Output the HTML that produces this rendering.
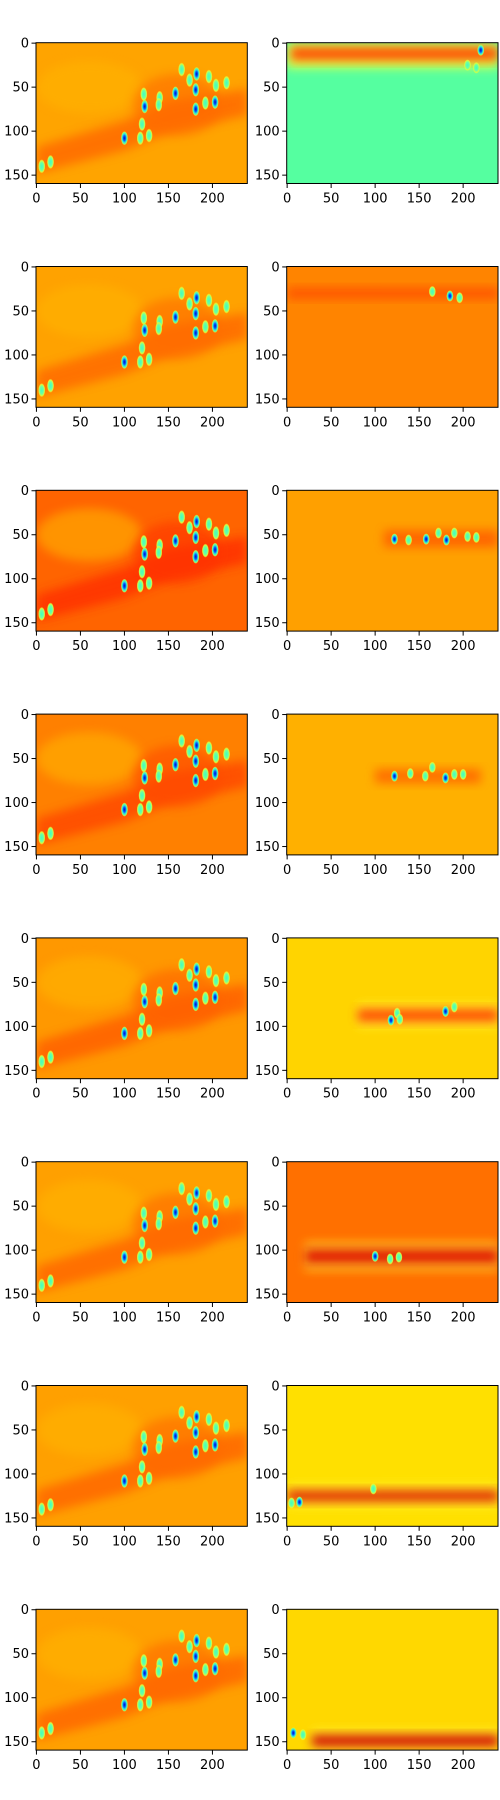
<!DOCTYPE html>
<html><head><meta charset="utf-8"><style>
body{margin:0;background:#fff;width:500px;height:1800px;overflow:hidden}
svg{display:block}
text{font-family:"DejaVu Sans","Liberation Sans",sans-serif;font-size:13px;fill:#000}
</style></head><body>
<svg id="fig" width="500" height="1800" xmlns="http://www.w3.org/2000/svg">
<defs>
<filter id="blur3" x="-50%" y="-50%" width="200%" height="200%"><feGaussianBlur stdDeviation="5"/></filter>
<filter id="blur1" x="-50%" y="-50%" width="200%" height="200%"><feGaussianBlur stdDeviation="1"/></filter>
<radialGradient id="blobS"><stop offset="0" stop-color="#0010c0"/><stop offset="0.35" stop-color="#0060ff"/><stop offset="0.6" stop-color="#30e0e0"/><stop offset="0.85" stop-color="#90ff70"/><stop offset="1" stop-color="#ffff40" stop-opacity="0"/></radialGradient>
<radialGradient id="blobW"><stop offset="0" stop-color="#40ffc0"/><stop offset="0.55" stop-color="#70ffa0"/><stop offset="0.8" stop-color="#d0ff40"/><stop offset="1" stop-color="#ffff40" stop-opacity="0"/></radialGradient>
</defs>
</svg>
<script>
const xTicks=[0,50,100,150,200];
const yTicks=[0,50,100,150];
// left panel blobs: [x, y, strong]
const leftBlobX=[100,122,123,120,118,128,140,139,158,165,174,182,181,181,192,196,203,204,216,6,16];
const leftBlobY=[108,58,72,92,108,105,62,70,57,30,42,35,53,75,68,38,67,48,45,140,135];
const leftBlobS=[1,0,1,0,0,0,0,0,1,0,0,1,1,1,0,0,1,0,0,0,0];
const leftBg=["#ffa400","#ffa200","#ff6400","#ff8000","#ff9800","#ffa000","#ffa000","#ffa000"];
const leftBand=["#ff6a00","#ff6a00","#ff3000","#ff4800","#ff6000","#ff6800","#ff6800","#ff6800"];
// right panels
const rightBg=["#55ffa0","#ff8400","#ffa000","#ffb000","#ffd400","#ff7000","#ffe000","#ffd800"];
const rightBandY0=[4,24,45,62,80,98,118,142];
const rightBandY1=[20,36,64,78,95,116,132,156];
const rightBandX0=[4,0,110,100,80,20,0,28];
const rightBandX1=[240,240,240,220,240,240,240,240];
const rightBandColor=["#ff4000","#ff5000","#ff6000","#ff6800","#ff4000","#e01000","#e02000","#d00000"];
const rightBlobs=[
 [[220,8,1],[215,28,0],[205,25,0]],
 [[165,28,0],[185,33,1],[196,35,0]],
 [[122,55,1],[138,56,0],[158,55,1],[172,48,0],[181,56,1],[190,48,0],[205,52,0],[215,53,0]],
 [[122,70,1],[140,67,0],[157,70,0],[165,60,0],[180,72,1],[190,68,0],[200,68,0]],
 [[118,93,1],[125,85,0],[128,92,0],[180,83,1],[190,78,0]],
 [[100,107,1],[117,110,0],[127,108,0]],
 [[14,132,1],[5,133,0],[98,117,0]],
 [[7,140,1],[18,142,0]]
];
const NS="http://www.w3.org/2000/svg";
const svg=document.getElementById('fig');
const colX=[36,286.7], rowY0=42.7, rowStep=223.8, PW=211.3, PH=140.8, K=0.88;
function mk(tag,attrs,parent){const e=document.createElementNS(NS,tag);for(const k in attrs)e.setAttribute(k,attrs[k]);(parent||svg).appendChild(e);return e;}
function panel(r,c){
  const x0=colX[c], y0=rowY0+r*rowStep;
  const xs=v=>x0+(v+0.5)*K, ys=v=>y0+(v+0.5)*K;
  const g=mk('g',{});
  
  
  const cid='clip'+r+'_'+c;
  const cp=mk('clipPath',{id:cid},g);mk('rect',{x:x0,y:y0,width:PW,height:PH},cp);
  const inner=mk('g',{'clip-path':'url(#'+cid+')'},g);
  if(c===0){
    mk('rect',{x:x0,y:y0,width:PW,height:PH,fill:leftBg[r]},inner);
    mk('ellipse',{cx:xs(60),cy:ys(50),rx:60*K,ry:30*K,fill:'#ffb400',opacity:0.6,filter:'url(#blur3)'},inner);
    const pts=[[0,118],[100,88],[150,66],[240,52],[240,82],[150,102],[100,122],[0,148]];
    mk('polygon',{points:pts.map(p=>xs(p[0])+','+ys(p[1])).join(' '),fill:leftBand[r],opacity:0.85,filter:'url(#blur3)'},inner);
    mk('ellipse',{cx:xs(160),cy:ys(70),rx:50*K,ry:35*K,fill:leftBand[r],opacity:0.6,filter:'url(#blur3)'},inner);
    for(let i=0;i<leftBlobX.length;i++){
      const b=mk('ellipse',{cx:xs(leftBlobX[i]),cy:ys(leftBlobY[i]),rx:4*K,ry:8*K,fill:leftBlobS[i]?'url(#blobS)':'url(#blobW)'},inner);
      
      
    }
  }else{
    mk('rect',{x:x0,y:y0,width:PW,height:PH,fill:rightBg[r]},inner);
    const bx0=rightBandX0[r],bx1=rightBandX1[r],by0=rightBandY0[r],by1=rightBandY1[r];
    if(r===0) mk('rect',{x:x0,y:ys(0),width:PW,height:28*K,fill:'#e8ff40',filter:'url(#blur3)'},inner);
    if(r>=4) mk('rect',{x:xs(bx0),y:ys(by0-6),width:(bx1-bx0)*K,height:(by1-by0+12)*K,fill:'#ffee30',opacity:0.8,filter:'url(#blur3)'},inner);
    mk('rect',{x:xs(bx0),y:ys(by0),width:(bx1-bx0)*K,height:(by1-by0)*K,fill:rightBandColor[r],opacity:0.9,filter:'url(#blur3)'},inner);
    for(const bl of rightBlobs[r]){
      const b=mk('ellipse',{cx:xs(bl[0]),cy:ys(bl[1]),rx:4*K,ry:6.5*K,fill:bl[2]?'url(#blobS)':'url(#blobW)'},inner);
      
      
    }
  }
  mk('rect',{x:x0,y:y0,width:PW,height:PH,fill:'none',stroke:'#000','stroke-width':1},g);
  for(const t of xTicks){
    mk('line',{x1:xs(t),x2:xs(t),y1:y0+PH,y2:y0+PH+4.5,stroke:'#000','stroke-width':1},g);
    const tx=mk('text',{x:xs(t),y:y0+PH+19,'text-anchor':'middle'},g);tx.textContent=t;
    
    
  }
  for(const t of yTicks){
    mk('line',{x1:x0-4.5,x2:x0,y1:ys(t),y2:ys(t),stroke:'#000','stroke-width':1},g);
    const ty=mk('text',{x:x0-7,y:ys(t)+4.5,'text-anchor':'end'},g);ty.textContent=t;
    
    
  }
}
for(let r=0;r<8;r++){panel(r,0);panel(r,1);}
</script>
</body></html>
